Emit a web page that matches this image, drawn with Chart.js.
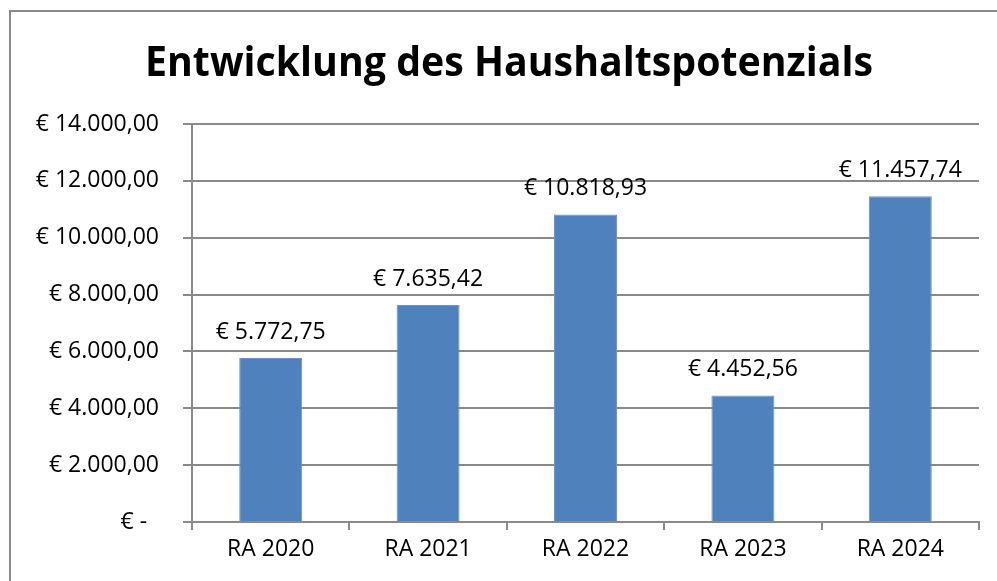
<!DOCTYPE html>
<html>
<head>
<meta charset="utf-8">
<script src="https://cdn.jsdelivr.net/npm/chart.js@4/dist/chart.umd.min.js"></script>
<style>
  html, body { margin: 0; padding: 0; background: #fff; }
  #wrap { position: relative; width: 997px; height: 581px; overflow: hidden; }
  #frame { position: absolute; left: 9px; top: 10px; width: 1200px; height: 800px;
           border-left: 2px solid #8a8a8a; border-top: 2px solid #8a8a8a; box-sizing: border-box; }
  canvas { position: absolute; left: 0; top: 0; }
</style>
</head>
<body>
<div id="wrap">
  <div id="frame"></div>
  <canvas id="c" width="997" height="581"></canvas>
</div>
<script>
const titleText = 'Entwicklung des Haushaltspotenzials';
const categories = ['RA 2020', 'RA 2021', 'RA 2022', 'RA 2023', 'RA 2024'];
const values = [5772.75, 7635.42, 10818.93, 4452.56, 11457.74];
const yMin = 0;
const yMax = 14000;
const yStep = 2000;

const fmt = new Intl.NumberFormat('de-DE', { minimumFractionDigits: 2, maximumFractionDigits: 2 });
const euro = v => v === 0 ? '€ -  ' : '€ ' + fmt.format(v);

const FONT = '"Open Sans", "Noto Sans", sans-serif';

const titlePlugin = {
  id: 'customTitle',
  afterDraw(chart) {
    const ctx = chart.ctx;
    ctx.save();
    ctx.font = 'bold 41px ' + FONT;
    ctx.fillStyle = '#000';
    ctx.textBaseline = 'alphabetic';
    ctx.textAlign = 'left';
    const w = ctx.measureText(titleText).width;
    const targetW = 728;
    const left = 145;
    ctx.translate(left, 76);
    ctx.scale(targetW / w, 1);
    ctx.fillText(titleText, 0, 0);
    ctx.restore();
  }
};

const labelPlugin = {
  id: 'valueLabels',
  afterDatasetsDraw(chart) {
    const ctx = chart.ctx;
    const meta = chart.getDatasetMeta(0);
    ctx.save();
    ctx.font = '23px ' + FONT;
    ctx.fillStyle = '#000';
    ctx.textAlign = 'center';
    ctx.textBaseline = 'alphabetic';
    meta.data.forEach((bar, i) => {
      ctx.fillText(euro(values[i]), bar.x, bar.y - 19);
    });
    ctx.restore();
  }
};

new Chart(document.getElementById('c'), {
  type: 'bar',
  data: {
    labels: categories,
    datasets: [{
      data: values,
      backgroundColor: '#4F81BD',
      borderColor: '#6a93c8',
      borderWidth: 1,
      barPercentage: 0.4,
      categoryPercentage: 1.0
    }]
  },
  options: {
    responsive: false,
    animation: false,
    events: [],
    layout: { padding: { top: 124, right: 18, bottom: 0, left: 0 } },
    plugins: {
      legend: { display: false },
      title: { display: false },
      tooltip: { enabled: false }
    },
    scales: {
      x: {
        offset: true,
        grid: {
          display: true,
          drawOnChartArea: false,
          drawTicks: true,
          tickLength: 8,
          color: '#8a8a8a',
          lineWidth: 2,
          offset: true
        },
        border: { display: true, color: '#8a8a8a', width: 2 },
        ticks: {
          color: '#000',
          font: { family: FONT, size: 23 },
          padding: 6
        },
        afterFit(scale) { scale.height = 59; }
      },
      y: {
        min: yMin,
        max: yMax,
        grid: {
          color: '#8a8a8a',
          lineWidth: 2,
          drawTicks: true,
          tickLength: 9
        },
        border: { display: true, color: '#8a8a8a', width: 2 },
        ticks: {
          stepSize: yStep,
          color: '#000',
          font: { family: FONT, size: 23 },
          padding: 24,
          callback: v => euro(v)
        },
        afterFit(scale) { scale.width = 192; }
      }
    }
  },
  plugins: [titlePlugin, labelPlugin]
});
</script>
</body>
</html>
